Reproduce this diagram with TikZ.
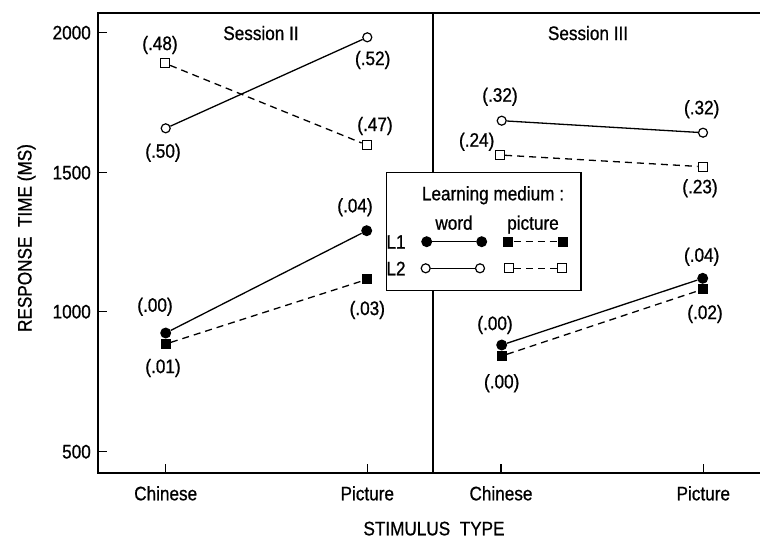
\documentclass[tikz,border=0pt]{standalone}
\usepackage{fontspec}
\setmainfont{Liberation Sans}[FakeStretch=0.88, FakeBold=0.8]
\begin{document}
\begin{tikzpicture}[x=1pt,y=-1pt,
  every node/.style={font=\fontsize{19.5}{21}\selectfont, inner sep=0pt},
  fc/.style={circle, fill=black, minimum size=11pt},
  fs/.style={rectangle, fill=black, minimum size=10pt},
  oc/.style={circle, draw, fill=white, line width=1.2pt, minimum size=9pt},
  os/.style={rectangle, draw, fill=white, line width=1.2pt, minimum size=9pt},
  solidline/.style={line width=1.3pt},
  dashline/.style={line width=1.3pt, dash pattern=on 7pt off 5pt},
  frame/.style={line width=1.8pt},
  wrd/.style={anchor=base}]
\useasboundingbox (0,0) rectangle (760,541);
% frame
\draw[frame] (760,12.7) -- (97.7,12.7) -- (97.7,472.7) -- (760,472.7);
\draw[frame] (433.3,12.7) -- (433.3,472.7);
% y ticks
\foreach \v/\yy in {2000/32.7,1500/172.7,1000/311.7,500/451.7}{
  \draw[line width=1.2pt] (97.7,\yy) -- (107,\yy);
  \node[anchor=east] (y\v) at (91,\yy) {\v};
}
% x ticks
\foreach \xx in {165.7,367.3,501,703.3}{
  \draw[line width=1.2pt] (\xx,472.7) -- (\xx,464);
}
\node[wrd] (xc1) at (165.7,500.3) {Chinese};
\node[wrd] (xp1) at (367.3,500.3) {Picture};
\node[wrd] (xc2) at (501,500.3) {Chinese};
\node[wrd] (xp2) at (703.3,500.3) {Picture};
\node[wrd] (xt) at (434,535.3) {STIMULUS\ \ TYPE};
\node[rotate=90, anchor=base] (yt) at (31.5,238) {RESPONSE\ \ TIME\ (MS)};
\node[wrd] (s2) at (261,40) {Session II};
\node[wrd] (s3) at (588,40) {Session III};
% Session II markers
\node[fs] (b1) at (165.7,344) {};
\node[fc] (a1) at (165.7,333) {};
\node[fc] (a2) at (366.7,230.7) {};
\node[fs] (b2) at (367.3,279.3) {};
\node[oc] (c1) at (165.7,128.3) {};
\node[oc] (c2) at (367.3,37.3) {};
\node[os] (d1) at (165,63.3) {};
\node[os] (d2) at (366.7,145) {};
\draw[solidline] (a1) -- (a2);
\draw[dashline] (b1) -- (b2);
\draw[solidline] (c1) -- (c2);
\draw[dashline] (d1) -- (d2);
\node (l48) at (160,45) {(.48)};
\node (l50) at (163,152.7) {(.50)};
\node (l52) at (372.7,60) {(.52)};
\node (l47) at (375,126) {(.47)};
\node (l04a) at (355,207.3) {(.04)};
\node (l03) at (367.3,310) {(.03)};
\node (l00a) at (155,306.7) {(.00)};
\node (l01) at (163,368) {(.01)};
% Session III markers
\node[fs] (f1) at (501.7,356) {};
\node[fc] (e1) at (501.7,345) {};
\node[fs] (f2) at (702.7,289.3) {};
\node[fc] (e2) at (702.7,278.3) {};
\node[oc] (g1) at (501.7,120.7) {};
\node[oc] (g2) at (703,132.7) {};
\node[os] (h1) at (500,155) {};
\node[os] (h2) at (702.7,166.7) {};
\draw[solidline] (e1) -- (e2);
\draw[dashline] (f1) -- (f2);
\draw[solidline] (g1) -- (g2);
\draw[dashline] (h1) -- (h2);
\node (l32a) at (500,96.7) {(.32)};
\node (l32b) at (701.7,109.3) {(.32)};
\node (l24) at (476.7,141.7) {(.24)};
\node (l23) at (700,188.3) {(.23)};
\node (l04b) at (701.7,256.7) {(.04)};
\node (l02) at (705,314) {(.02)};
\node (l00b) at (495,325) {(.00)};
\node (l00c) at (501.7,383.3) {(.00)};
% legend
\draw[line width=1.2pt, fill=white] (386.7,172.7) rectangle (581,290.7);
\node[wrd] (lgt) at (493,200.3) {Learning medium :};
\node[wrd] (lgw) at (454,229.7) {word};
\node[wrd] (lgp) at (533,229.7) {picture};
\node[wrd] (lg1) at (396,248.7) {L1};
\node[wrd] (lg2) at (396,275.3) {L2};
\node[fc] (m1) at (426.7,241.7) {};
\node[fc] (m2) at (481.7,241.7) {};
\node[fs] (m3) at (508.3,241.7) {};
\node[fs] (m4) at (562.7,241.7) {};
\node[oc] (n1) at (425.7,268.3) {};
\node[oc] (n2) at (480,268.3) {};
\node[os] (n3) at (509.3,268.3) {};
\node[os] (n4) at (561.7,268.3) {};
\draw[solidline] (m1) -- (m2);
\draw[dashline] (m3) -- (m4);
\draw[solidline] (n1) -- (n2);
\draw[dashline] (n3) -- (n4);
\end{tikzpicture}
\end{document}
